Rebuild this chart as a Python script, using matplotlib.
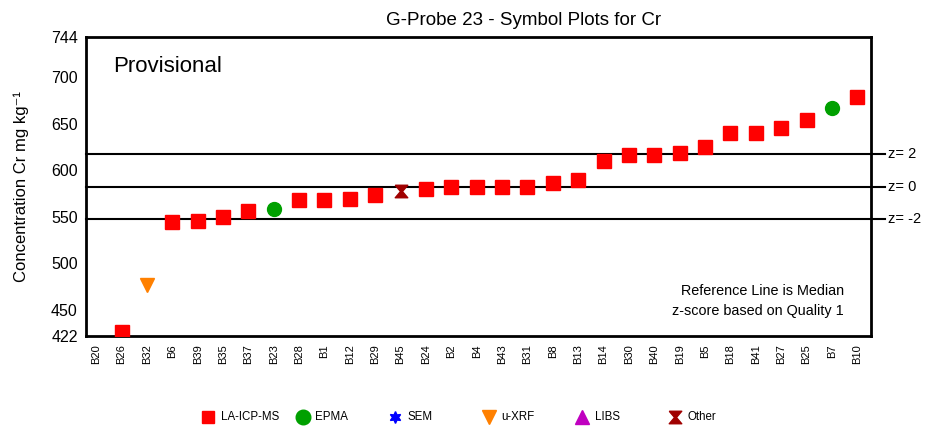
import numpy as np
import matplotlib
matplotlib.use("Agg")
from matplotlib import pyplot as plt

plt.rcParams['font.family'] = ['Liberation Sans', 'DejaVu Sans']

# categories along the x axis (sorted by result)
labs = ['B20', 'B26', 'B32', 'B6', 'B39', 'B35', 'B37', 'B23', 'B28', 'B1',
        'B12', 'B29', 'B45', 'B24', 'B2', 'B4', 'B43', 'B31', 'B8', 'B13',
        'B14', 'B30', 'B40', 'B19', 'B5', 'B18', 'B41', 'B27', 'B25', 'B7', 'B10']

# results per technique
la_icp_ms = {'B26': 426, 'B6': 544.6, 'B39': 546, 'B35': 550.3, 'B37': 556.7,
             'B28': 567.8, 'B1': 567.8, 'B12': 569.6, 'B29': 573.9, 'B24': 580.3,
             'B2': 582.5, 'B4': 582.5, 'B43': 582.5, 'B31': 582.5, 'B8': 586.8,
             'B13': 589.2, 'B14': 610.5, 'B30': 616.8, 'B40': 616.8, 'B19': 619,
             'B5': 625.7, 'B18': 640.4, 'B41': 640.4, 'B27': 645.1, 'B25': 653.7,
             'B10': 679.4}
epma = {'B23': 558, 'B7': 667.3}
uxrf = {'B32': 476.5}
other = {'B45': 577.4}

z_lines = [617.5, 582.5, 547.5]
z_labels = ['z= 2', 'z= 0', 'z= -2']
yticks = [422, 450, 500, 550, 600, 650, 700, 744]

hourglass = [(-1, 1), (1, 1), (0.15, 0), (1, -1), (-1, -1), (-0.15, 0), (-1, 1)]

fig = plt.figure(figsize=(9.27, 4.30), dpi=100)
ax = fig.add_axes([0.0928, 0.219, 0.847, 0.696])

def draw(d, **kw):
    xs = [labs.index(k) for k in d]
    ax.plot(xs, list(d.values()), linestyle='none', **kw)

# reference lines (run a bit past the right border)
for v, t in zip(z_lines, z_labels):
    ax.plot([-0.4, 31.1], [v, v], color='black', lw=1.5, clip_on=False, zorder=1)
    ax.text(31.2, v, t, fontsize=10.5, va='center', ha='left')

draw(la_icp_ms, marker='s', color='#ff0000', ms=9.5, zorder=3)
draw(epma, marker='o', color='#00a000', ms=10, zorder=3)
draw(uxrf, marker='v', color='#ff8000', ms=10, zorder=3)
draw(other, marker=hourglass, color='#a00000', ms=9, zorder=3)

ax.set_xlim(-0.4, 30.55)
ax.set_ylim(422, 744)
ax.set_yticks(yticks)
ax.set_yticklabels([str(t) for t in yticks], fontsize=11.5)
ax.set_xticks(range(len(labs)))
ax.set_xticklabels(labs, rotation=90, fontsize=8)
ax.tick_params(length=0, pad=6)
for s in ax.spines.values():
    s.set_linewidth(2)

ax.set_ylabel('Concentration Cr mg kg⁻¹', fontsize=12, labelpad=16)
fig.text(0.565, 0.953, 'G-Probe 23 - Symbol Plots for Cr', fontsize=13.5,
         ha='center', va='center')
ax.text(0.035, 0.9, 'Provisional', transform=ax.transAxes, fontsize=16, va='center')
ax.text(0.965, 0.151, 'Reference Line is Median', transform=ax.transAxes,
        fontsize=10.4, ha='right', va='center')
ax.text(0.965, 0.0845, 'z-score based on Quality 1', transform=ax.transAxes,
        fontsize=10.4, ha='right', va='center')

# legend row along the bottom, placed by hand like the original
names = ['LA-ICP-MS', 'EPMA', 'SEM', 'u-XRF', 'LIBS', 'Other']
marks = ['s', 'o', (6, 1, 0), 'v', '^', hourglass]
cols = ['#ff0000', '#00a000', '#0000ff', '#ff8000', '#c000c0', '#a00000']
sizes = [9, 10.5, 8.5, 10, 10, 9]
leg_x = [208, 302.7, 394.7, 488.7, 582, 675]
leg_y = 1 - 416.7 / 430
for n, m, c, sz, px in zip(names, marks, cols, sizes, leg_x):
    fig.lines.append(plt.Line2D([px / 927], [leg_y], transform=fig.transFigure,
                                ls='none', marker=m, color=c, ms=sz))
    fig.text((px + 12.5) / 927, leg_y, n, fontsize=8.3, va='center', ha='left')

fig.savefig('out.png', dpi=100)
